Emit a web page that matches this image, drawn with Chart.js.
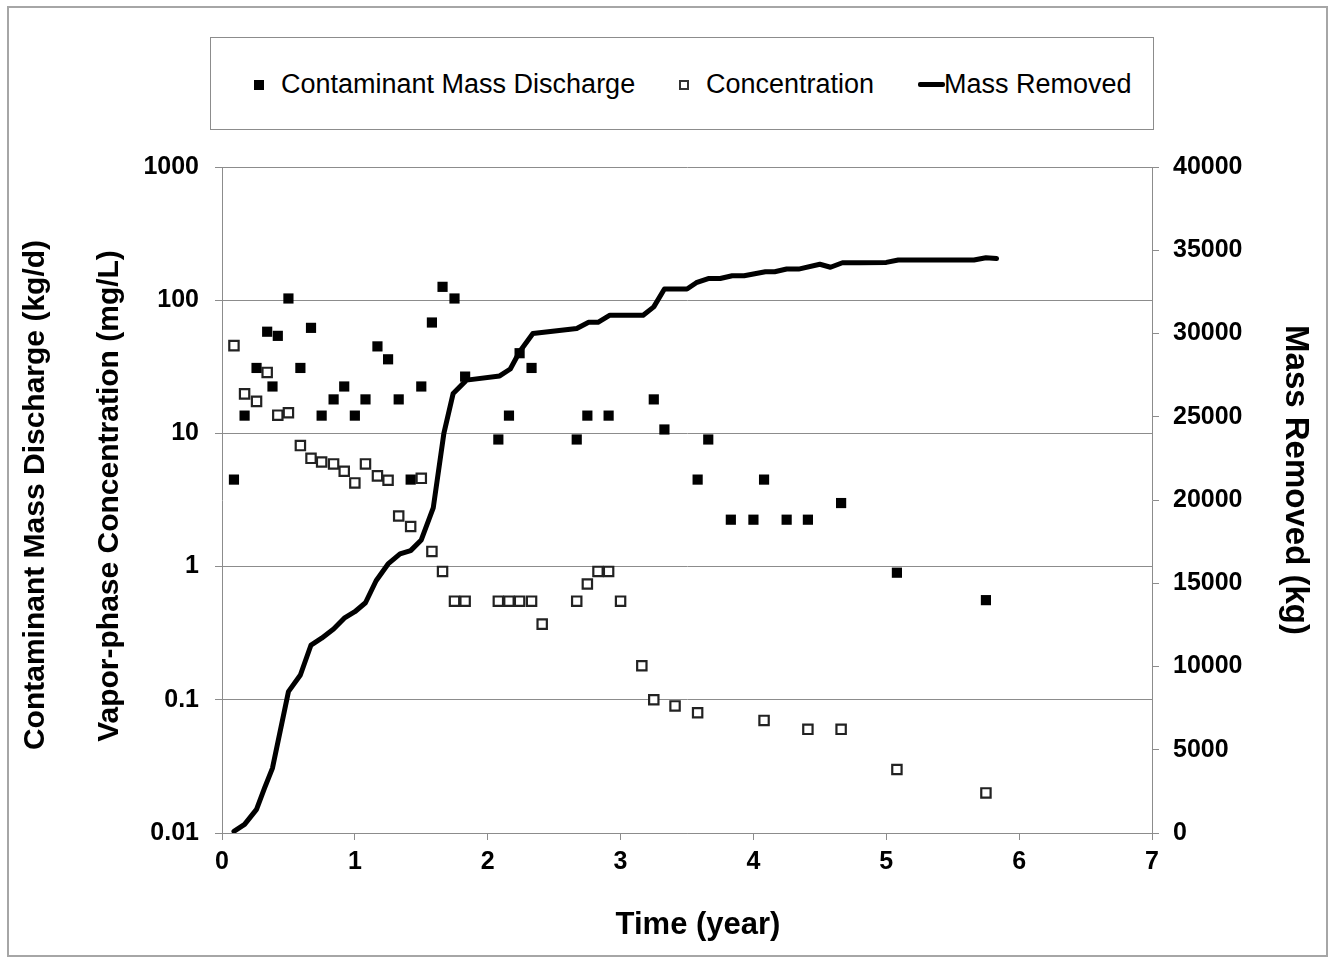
<!DOCTYPE html>
<html>
<head>
<meta charset="utf-8">
<title>Mass discharge, concentration and mass removed</title>
<script src="https://cdn.jsdelivr.net/npm/chart.js@4"></script>
<style>
  html, body { margin: 0; padding: 0; background: #fff; }
  #wrap { position: relative; width: 1334px; height: 958px; overflow: hidden; }
  #legend {
    position: absolute; left: 210px; top: 37px; width: 942px; height: 91px;
    border: 1px solid #8c8c8c; background: #fff;
    font-family: "Liberation Sans", Arial, sans-serif; font-size: 27px; color: #000;
  }
  #legend span { position: absolute; line-height: 30px; top: 31px; white-space: nowrap; }
  #legend .mark { position: absolute; box-sizing: border-box; }
</style>
</head>
<body>
<div id="wrap">
  <canvas id="myChart" width="1334" height="958"></canvas>
  <div id="legend">
    <div class="mark" style="left:43px;top:42px;width:10px;height:10px;background:#000;"></div>
    <span style="left:70px;">Contaminant Mass Discharge</span>
    <div class="mark" style="left:468px;top:42px;width:10px;height:10px;border:2px solid #333;background:#fff;"></div>
    <span style="left:495px;">Concentration</span>
    <div class="mark" style="left:707px;top:44px;width:27px;height:5px;background:#000;border-radius:2px;"></div>
    <span style="left:733px;">Mass Removed</span>
  </div>
</div>
<script>
'use strict';

/** Data */
let dischargeTime = [0.09, 0.17, 0.26, 0.34, 0.38, 0.42, 0.5, 0.59, 0.67, 0.75, 0.84, 0.92, 1.0, 1.08,
  1.17, 1.25, 1.33, 1.42, 1.5, 1.58, 1.66, 1.75, 1.83, 2.08, 2.16, 2.24, 2.33, 2.67, 2.75, 2.91,
  3.25, 3.33, 3.58, 3.66, 3.83, 4.0, 4.08, 4.25, 4.41, 4.66, 5.08, 5.75];
let dischargeValues = [4.5, 13.6, 31, 58, 22.5, 54, 103, 31, 62, 13.6, 18, 22.5, 13.6, 18,
  45, 36, 18, 4.5, 22.5, 68, 126, 103, 26.7, 9, 13.6, 40, 31, 9, 13.6, 13.6,
  18, 10.7, 4.5, 9, 2.25, 2.25, 4.5, 2.25, 2.25, 3.0, 0.9, 0.56];

let concTime = [0.09, 0.17, 0.26, 0.34, 0.42, 0.5, 0.59, 0.67, 0.75, 0.84, 0.92, 1.0, 1.08, 1.17,
  1.25, 1.33, 1.42, 1.5, 1.58, 1.66, 1.75, 1.83, 2.08, 2.16, 2.24, 2.33, 2.41, 2.67, 2.75, 2.83,
  2.91, 3.0, 3.16, 3.25, 3.41, 3.58, 4.08, 4.41, 4.66, 5.08, 5.75];
let concValues = [45.6, 19.8, 17.4, 28.7, 13.7, 14.3, 8.1, 6.5, 6.1, 5.9, 5.2, 4.25, 5.9, 4.8,
  4.45, 2.4, 2.0, 4.6, 1.3, 0.92, 0.55, 0.55, 0.55, 0.55, 0.55, 0.55, 0.37, 0.55, 0.74, 0.92,
  0.92, 0.55, 0.18, 0.1, 0.09, 0.08, 0.07, 0.06, 0.06, 0.03, 0.02];

let massTime = [0.09, 0.17, 0.26, 0.32, 0.38, 0.5, 0.59, 0.67, 0.75, 0.84, 0.92, 1.0, 1.08, 1.16,
  1.25, 1.34, 1.42, 1.5, 1.59, 1.67, 1.74, 1.84, 2.09, 2.17, 2.24, 2.34, 2.67, 2.76, 2.83, 2.92,
  3.17, 3.25, 3.33, 3.5, 3.57, 3.66, 3.75, 3.84, 3.93, 4.09, 4.16, 4.25, 4.34, 4.5, 4.58, 4.67,
  4.8, 5.0, 5.09, 5.66, 5.75, 5.83];
let massValues = [100, 520, 1420, 2700, 3900, 8490, 9490, 11290, 11700, 12250, 12900, 13290, 13830, 15150,
  16160, 16760, 16960, 17600, 19520, 24000, 26400, 27200, 27450, 27870, 28900, 30000, 30300, 30670, 30670, 31100,
  31100, 31600, 32670, 32670, 33050, 33300, 33300, 33470, 33470, 33710, 33710, 33870, 33870, 34160, 33980, 34250,
  34250, 34270, 34410, 34410, 34550, 34500];

/** Axis ticks and titles */
let xTicks = [0, 1, 2, 3, 4, 5, 6, 7];
let leftTicks = [0.01, 0.1, 1, 10, 100, 1000];
let rightTicks = [0, 5000, 10000, 15000, 20000, 25000, 30000, 35000, 40000];
let leftTitles = ['Contaminant Mass Discharge (kg/d)', 'Vapor-phase Concentration (mg/L)'];
let xTitle = 'Time (year)';
let rightTitle = 'Mass Removed (kg)';

const FONT = '"Liberation Sans", Arial, sans-serif';
const GRID = '#8c8c8c';

// zip two arrays into {x, y} points
function toPoints(xs, ys) {
  let pts = [];
  for (let i = 0; i < xs.length; i++) {
    pts.push({ x: xs[i], y: ys[i] });
  }
  return pts;
}

// draw one piece of text, rotated around its centre
function drawText(c, text, x, y, size, angle) {
  c.save();
  c.font = 'bold ' + size + 'px ' + FONT;
  c.translate(x, y);
  c.rotate(angle);
  c.fillText(text, 0, 0);
  c.restore();
}

// white background, outer frame and axis titles
const extras = {
  id: 'extras',
  beforeDraw(chart) {
    let c = chart.ctx;
    c.save();
    c.fillStyle = '#fff';
    c.fillRect(0, 0, chart.width, chart.height);
    c.restore();
  },
  afterDraw(chart) {
    let c = chart.ctx;
    let area = chart.chartArea;
    c.save();
    c.strokeStyle = '#a6a6a6';
    c.lineWidth = 2;
    c.strokeRect(8, 7, 1319, 949);
    c.fillStyle = '#000';
    c.textAlign = 'center';
    c.textBaseline = 'middle';
    let midY = (area.top + area.bottom) / 2;
    drawText(c, leftTitles[0], 36, midY - 5, 30, -Math.PI / 2);
    drawText(c, leftTitles[1], 110, midY - 4, 30, -Math.PI / 2);
    drawText(c, rightTitle, 1295, midY - 20, 33, Math.PI / 2);
    drawText(c, xTitle, (area.left + area.right) / 2 + 11, 925, 31, 0);
    c.restore();
  }
};

let ctx = document.getElementById('myChart');

new Chart(ctx, {
  type: 'scatter',
  data: {
    datasets: [
      {
        label: 'Contaminant Mass Discharge',
        data: toPoints(dischargeTime, dischargeValues),
        yAxisID: 'y',
        pointStyle: 'rect',
        pointRadius: 7.2,
        pointBackgroundColor: '#000',
        pointBorderColor: '#000',
        pointBorderWidth: 0
      },
      {
        label: 'Concentration',
        data: toPoints(concTime, concValues),
        yAxisID: 'y',
        pointStyle: 'rect',
        pointRadius: 6.6,
        pointBackgroundColor: '#fff',
        pointBorderColor: '#222',
        pointBorderWidth: 2.2
      },
      {
        label: 'Mass Removed',
        data: toPoints(massTime, massValues),
        yAxisID: 'y2',
        showLine: true,
        borderColor: '#000',
        borderWidth: 5,
        borderCapStyle: 'round',
        borderJoinStyle: 'round',
        pointRadius: 0,
        tension: 0
      }
    ]
  },
  options: {
    responsive: false,
    animation: false,
    layout: { padding: { left: 0, right: 0, top: 167, bottom: 0 } },
    plugins: {
      legend: { display: false },
      tooltip: { enabled: false }
    },
    scales: {
      x: {
        type: 'linear',
        min: 0,
        max: 7,
        afterBuildTicks: (s) => { s.ticks = xTicks.map(v => ({ value: v })); },
        afterFit: (s) => { s.height = 125; },
        ticks: {
          color: '#000',
          padding: 7,
          font: { family: FONT, size: 25, weight: 'bold' }
        },
        grid: { drawOnChartArea: false, color: GRID, tickLength: 7 },
        border: { color: GRID, width: 1 }
      },
      y: {
        type: 'logarithmic',
        position: 'left',
        min: 0.01,
        max: 1000,
        afterBuildTicks: (s) => { s.ticks = leftTicks.map(v => ({ value: v })); },
        afterFit: (s) => { s.width = 222; },
        ticks: {
          color: '#000',
          padding: 16,
          font: { family: FONT, size: 25, weight: 'bold' },
          callback: (v) => String(v)
        },
        grid: { color: GRID, tickLength: 7, lineWidth: 1 },
        border: { color: GRID, width: 1 }
      },
      y2: {
        type: 'linear',
        position: 'right',
        min: 0,
        max: 40000,
        afterBuildTicks: (s) => { s.ticks = rightTicks.map(v => ({ value: v })); },
        afterFit: (s) => { s.width = 182; },
        ticks: {
          color: '#000',
          padding: 14,
          font: { family: FONT, size: 25, weight: 'bold' },
          callback: (v) => String(v)
        },
        grid: { drawOnChartArea: false, color: GRID, tickLength: 7 },
        border: { color: GRID, width: 1 }
      }
    }
  },
  plugins: [extras]
});
</script>
</body>
</html>
